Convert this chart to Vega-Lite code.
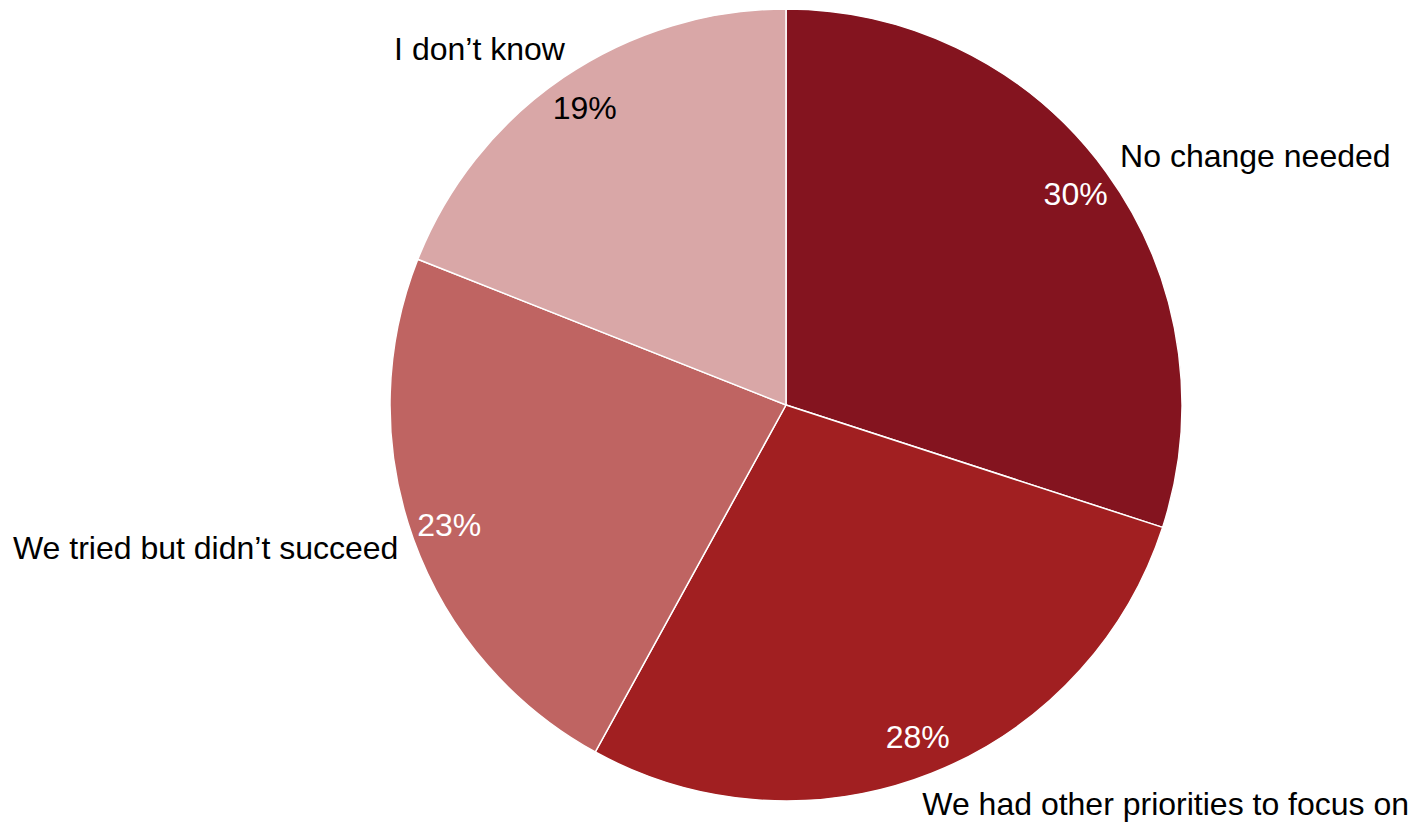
{
  "$schema": "https://vega.github.io/schema/vega-lite/v6.json",
  "autosize": {"type": "none"},
  "width": 1250,
  "height": 810,
  "padding": {"left": 161, "top": 0, "right": 0, "bottom": 12},
  "background": "white",
  "config": {"view": {"stroke": null}, "font": "Liberation Sans"},
  "data": {
    "values": [
      {"category": "No change needed", "value": 0.30},
      {"category": "We had other priorities to focus on", "value": 0.28},
      {"category": "We tried but didn’t succeed", "value": 0.23},
      {"category": "I don’t know", "value": 0.19}
    ]
  },
  "encoding": {
    "theta": {"field": "value", "type": "quantitative", "stack": true},
    "order": {"field": "value", "type": "quantitative", "sort": "descending"}
  },
  "layer": [
    {
      "mark": {"type": "arc", "outerRadius": 396, "stroke": "white", "strokeWidth": 1.5},
      "encoding": {
        "color": {
          "field": "category",
          "type": "nominal",
          "scale": {
            "domain": ["No change needed", "We had other priorities to focus on", "We tried but didn’t succeed", "I don’t know"],
            "range": ["#84141F", "#A11F21", "#BF6462", "#D9A7A7"]
          },
          "legend": null
        }
      }
    },
    {
      "mark": {"type": "text", "radius": 358, "fontSize": 32, "align": "center", "baseline": "middle"},
      "encoding": {
        "detail": {"field": "category", "type": "nominal"},
        "text": {"field": "value", "type": "quantitative", "format": ".0%"},
        "color": {"condition": {"test": "datum.category === 'I don’t know'", "value": "black"}, "value": "white"}
      }
    },
    {
      "mark": {"type": "text", "radius": 413, "fontSize": 32, "align": "left", "baseline": "middle", "dy": -5, "color": "black"},
      "encoding": {
        "detail": {"field": "category", "type": "nominal"},
        "text": {"condition": {"test": "datum.category === 'No change needed'", "field": "category"}, "value": ""}
      }
    },
    {
      "mark": {"type": "text", "radius": 430, "fontSize": 32, "align": "left", "baseline": "middle", "dx": -22, "color": "black"},
      "encoding": {
        "detail": {"field": "category", "type": "nominal"},
        "text": {"condition": {"test": "datum.category === 'We had other priorities to focus on'", "field": "category"}, "value": ""}
      }
    },
    {
      "mark": {"type": "text", "radius": 412, "fontSize": 32, "align": "right", "baseline": "middle", "dy": 4, "color": "black"},
      "encoding": {
        "detail": {"field": "category", "type": "nominal"},
        "text": {"condition": {"test": "datum.category === 'We tried but didn’t succeed'", "field": "category"}, "value": ""}
      }
    },
    {
      "mark": {"type": "text", "radius": 429, "fontSize": 32, "align": "right", "baseline": "middle", "dx": 20, "color": "black"},
      "encoding": {
        "detail": {"field": "category", "type": "nominal"},
        "text": {"condition": {"test": "datum.category === 'I don’t know'", "field": "category"}, "value": ""}
      }
    }
  ]
}
